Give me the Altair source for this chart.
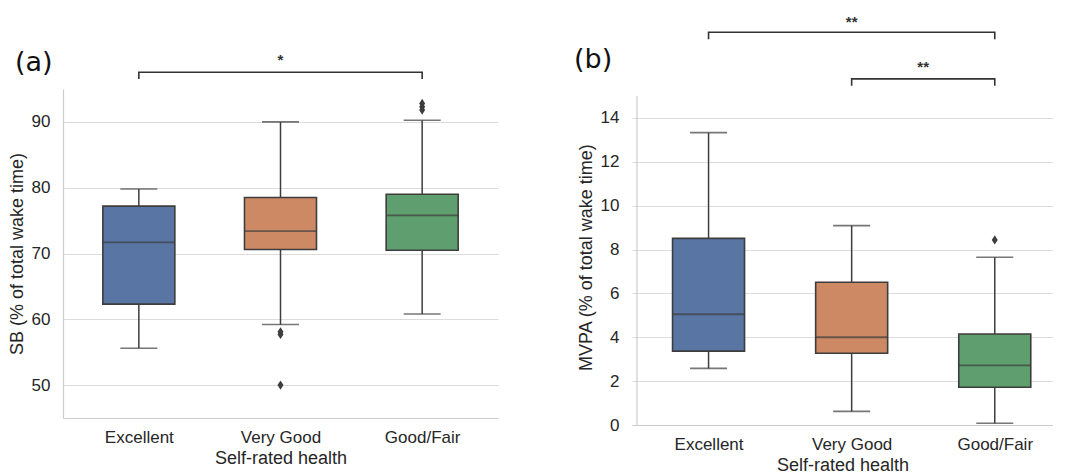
import altair as alt
import pandas as pd

# ---------------- data ----------------
categories = ["Excellent", "Very Good", "Good/Fair"]
box_colors = ["#5975a4", "#cc8963", "#5f9e6e"]

# (a) SB (% of total wake time)
sb_low = [55.6, 59.2, 60.8]
sb_q1 = [62.3, 70.6, 70.5]
sb_med = [71.7, 73.4, 75.8]
sb_q3 = [77.2, 78.5, 79.0]
sb_high = [79.8, 90.0, 90.25]
sb_out_group = ["Very Good", "Very Good", "Very Good", "Good/Fair", "Good/Fair", "Good/Fair"]
sb_out_value = [58.1, 57.7, 50.0, 92.8, 92.3, 91.8]
sb_ticks = [50, 60, 70, 80, 90]

# (b) MVPA (% of total wake time)
mvpa_low = [2.58, 0.62, 0.08]
mvpa_q1 = [3.37, 3.27, 1.72]
mvpa_med = [5.05, 4.00, 2.72]
mvpa_q3 = [8.51, 6.51, 4.15]
mvpa_high = [13.33, 9.09, 7.65]
mvpa_out_group = ["Good/Fair"]
mvpa_out_value = [8.44]
mvpa_ticks = [0, 2, 4, 6, 8, 10, 12, 14]

# significance comparisons: (from, to, label)
sb_sig = [("Excellent", "Good/Fair", "*")]
mvpa_sig = [("Excellent", "Good/Fair", "**"), ("Very Good", "Good/Fair", "**")]

LINE = "#3d3d3d"
GRID = "#dcdcdc"
FONT = "Liberation Sans"


def panel(low, q1, med, q3, high, out_g, out_v, ytitle, ydomain, yticks,
          width, height, xmax, sig, sig_levels, letter, letter_pos,
          spine_top=None):
    idx = list(range(len(categories)))
    stats = pd.DataFrame({"i": idx, "cat": categories, "low": low, "q1": q1,
                          "med": med, "q3": q3, "high": high})
    outl = pd.DataFrame({"i": [categories.index(g) for g in out_g], "v": out_v})

    xs = alt.Scale(domain=[-0.5, xmax], nice=False, zero=False)
    ys = alt.Scale(domain=ydomain, nice=False, zero=False)
    x_axis = alt.Axis(values=idx, labelExpr=f"{categories}[datum.value]",
                      grid=False, ticks=False, domainColor="#cccccc",
                      domainWidth=1.2, labelPadding=11, titlePadding=4,
                      title="Self-rated health")
    y_axis = alt.Axis(values=yticks, grid=True, gridColor=GRID, gridWidth=1.2,
                      ticks=False, domain=spine_top is None,
                      domainColor="#cccccc", domainWidth=1.2,
                      labelPadding=13, titlePadding=5, title=ytitle)

    base = alt.Chart(stats)
    x = alt.X("i:Q", scale=xs, axis=x_axis)
    color = alt.Color("cat:N", scale=alt.Scale(domain=categories, range=box_colors),
                      legend=None)

    whisk_lo = base.mark_rule(color=LINE, strokeWidth=1.5).encode(
        x=x, y=alt.Y("low:Q", scale=ys, axis=y_axis), y2="q1:Q")
    whisk_hi = base.mark_rule(color=LINE, strokeWidth=1.5).encode(
        x="i:Q", y="q3:Q", y2="high:Q")
    cap_lo = base.mark_tick(orient="horizontal", size=37, thickness=1.6,
                            color=LINE).encode(x="i:Q", y="low:Q")
    cap_hi = base.mark_tick(orient="horizontal", size=37, thickness=1.6,
                            color=LINE).encode(x="i:Q", y="high:Q")
    box = base.mark_bar(size=72, stroke=LINE, strokeWidth=1.6).encode(
        x="i:Q", y="q1:Q", y2="q3:Q", color=color)
    median = base.mark_tick(orient="horizontal", size=72, thickness=1.8,
                            color=LINE).encode(x="i:Q", y="med:Q")
    outliers = alt.Chart(outl).mark_point(
        shape="M0,-1L0.65,0L0,1L-0.65,0Z", filled=True, size=85, color=LINE,
        opacity=1).encode(x="i:Q", y="v:Q")

    layers = [whisk_lo, whisk_hi, box, median, cap_lo, cap_hi, outliers]

    # significance brackets
    rows, labels = [], []
    for k, ((a, b, lab), (ytop, yend, ytxt)) in enumerate(zip(sig, sig_levels)):
        ia, ib = categories.index(a), categories.index(b)
        for o, (px, py) in enumerate([(ia, yend), (ia, ytop), (ib, ytop), (ib, yend)]):
            rows.append({"bid": k, "o": o, "x": px, "y": py})
        labels.append({"x": (ia + ib) / 2, "y": ytxt, "t": lab})
    br = alt.Chart(pd.DataFrame(rows)).mark_line(color="#333333", strokeWidth=1.6).encode(
        x="x:Q", y="y:Q", detail="bid:N", order="o:Q")
    st = alt.Chart(pd.DataFrame(labels)).mark_text(
        font=FONT, fontSize=15, fontWeight="bold", color="#333333",
        baseline="alphabetic").encode(x="x:Q", y="y:Q", text="t:N")
    lt = alt.Chart(pd.DataFrame([{"x": letter_pos[0], "y": letter_pos[1], "t": letter}])).mark_text(
        font="DejaVu Sans", fontSize=27, color="#111111", align="left",
        baseline="middle").encode(x="x:Q", y="y:Q", text="t:N")
    layers += [br, st, lt]

    if spine_top is not None:
        spine = alt.Chart(pd.DataFrame({"x": [-0.5], "y0": [ydomain[0]], "y1": [spine_top]})).mark_rule(
            color="#cccccc", strokeWidth=1.2).encode(x="x:Q", y="y0:Q", y2="y1:Q")
        layers = [spine] + layers

    return alt.layer(*layers).properties(width=width, height=height)


panel_a = panel(sb_low, sb_q1, sb_med, sb_q3, sb_high, sb_out_group, sb_out_value,
                "SB (% of total wake time)", [45, 95], sb_ticks,
                435, 329, 2.5, sb_sig, [(97.54, 96.52, 98.7)], "(a)", (-0.875, 99.0))

panel_b = panel(mvpa_low, mvpa_q1, mvpa_med, mvpa_q3, mvpa_high, mvpa_out_group,
                mvpa_out_value, "MVPA (% of total wake time)", [0, 15.32], mvpa_ticks,
                421, 336, 2.372, mvpa_sig,
                [(17.91, 17.59, 18.15), (15.78, 15.47, 16.1)], "(b)", (-0.94, 16.62),
                spine_top=15)

chart = alt.hconcat(panel_a, panel_b, spacing=134, bounds="flush").properties(
    padding={"left": 0, "top": 6, "right": 0, "bottom": 0},
    background="white",
).configure_view(stroke=None).configure_axis(
    labelFont=FONT, labelFontSize=17, labelColor="#262626",
    titleFont=FONT, titleFontSize=18, titleFontWeight="normal", titleColor="#262626",
)

chart.save("out.html", embed_options={"renderer": "svg", "actions": False})
